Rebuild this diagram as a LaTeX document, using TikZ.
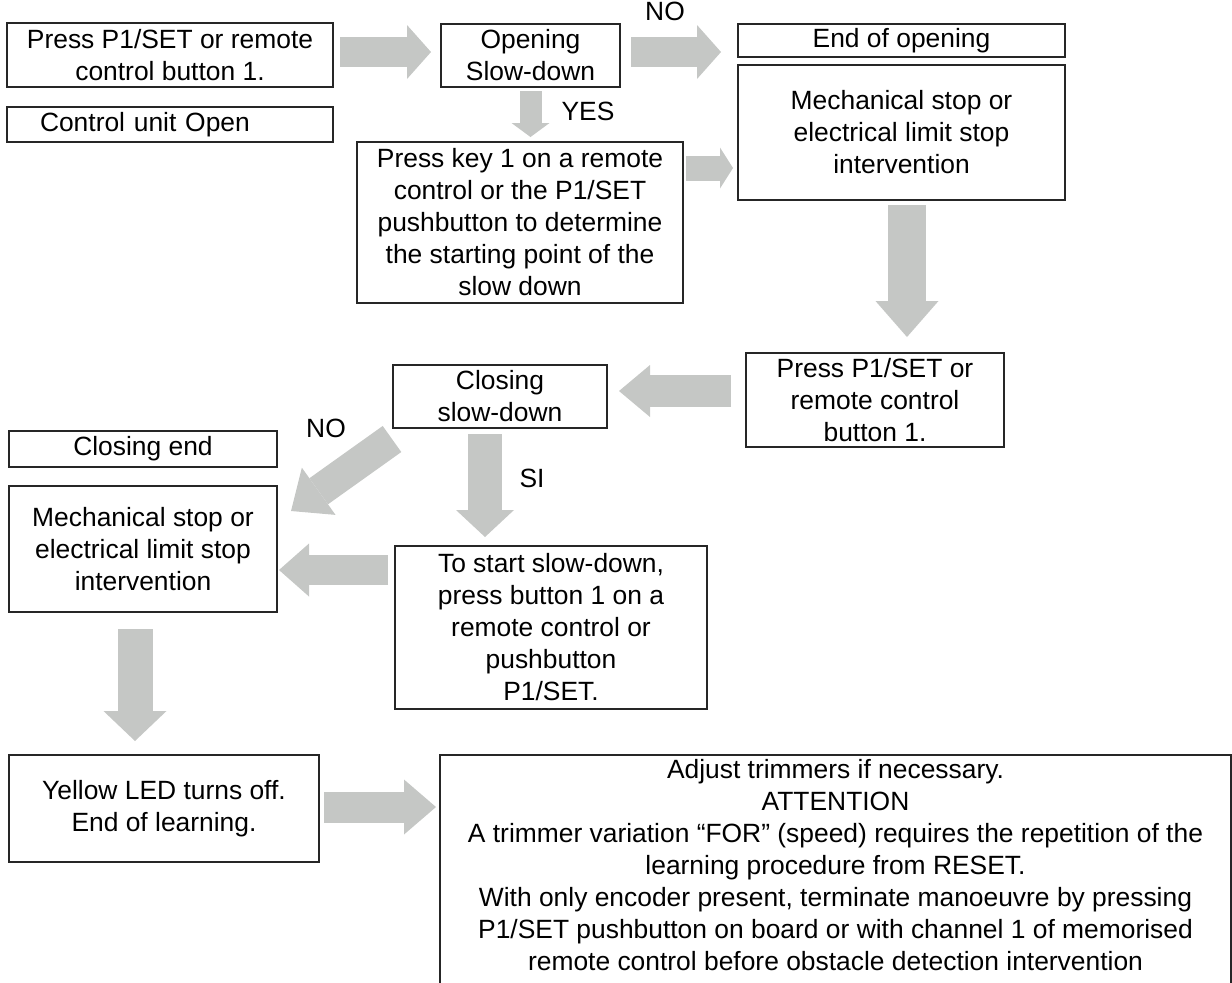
\documentclass[tikz,border=0pt]{standalone}
\usepackage{fontspec}
\setmainfont{Liberation Sans}
\usetikzlibrary{calc,positioning,arrows.meta}
\definecolor{flowgray}{RGB}{197,199,197}

\begin{document}
\begin{tikzpicture}[x=0.5pt,y=-0.5pt,
  box/.style={draw=black!85,line width=1pt,align=center,inner sep=0pt,
    font=\fontsize{13.2}{16}\selectfont},
  boxline/.style={draw=black!85,line width=1pt},
  lbl/.style={inner sep=0pt,font=\fontsize{13.2}{16}\selectfont},
  flow/.style n args={3}{draw=flowgray,line width=#1,
    -{Triangle[width=#2,length=#3,line width=0pt]}}]

\useasboundingbox (0,0) rectangle (1232,982);

\node[box,minimum width=163pt,minimum height=32pt] (pressA) at (170,55) {Press P1/SET or remote\\control button 1.};
\node[box,text width=130pt,inner xsep=16.5pt,align=left,minimum height=17.5pt] (ctrlopen) at (170,124.5) {Control unit Open};
\node[box,minimum width=89.5pt,minimum height=31.5pt] (openslow) at (530.5,55.5) {Opening\\Slow-down};
\node[box,minimum width=163.5pt,minimum height=16.5pt] (endopen) at (901.5,40.5) {End of opening};
\node[box,minimum width=163.5pt,minimum height=67.5pt] (mechA) at (901.5,132.5) {Mechanical stop or\\electrical limit stop\\intervention};
\node[box,minimum width=163pt,minimum height=80.5pt] (presskey) at (520,222.5) {Press key 1 on a remote\\control or the P1/SET\\pushbutton to determine\\the starting point of the\\slow down};
\node[box,minimum width=129pt,minimum height=47pt] (pressB) at (875,400) {Press P1/SET or\\remote control\\button 1.};
\node[box,minimum width=107pt,minimum height=31.5pt] (closeslow) at (500,396.5) {Closing\\slow-down};
\node[box,minimum width=134pt,minimum height=18pt] (closeend) at (143,449) {Closing end};
\node[box,minimum width=134pt,minimum height=63pt] (mechB) at (143,549) {Mechanical stop or\\electrical limit stop\\intervention};
\node[box,minimum width=156pt,minimum height=81.5pt] (tostart) at (551,627.5) {To start slow-down,\\press button 1 on a\\remote control or\\pushbutton\\P1/SET.};
\node[box,minimum width=155pt,minimum height=53.5pt] (yellow) at (164,808.5) {Yellow LED turns off.\\End of learning.};
\node[box,draw=none,minimum width=394.5pt,inner ysep=1.5pt,anchor=north] (adjust) at (835.5,755) {Adjust trimmers if necessary.\\ATTENTION\\A trimmer variation “FOR” (speed) requires the repetition of the\\learning procedure from RESET.\\With only encoder present, terminate manoeuvre by pressing\\P1/SET pushbutton on board or with channel 1 of memorised\\remote control before obstacle detection intervention};
\draw[boxline] ($(adjust.north west)+(0,260)$) |- (adjust.north east) -- ++(0,260);

\node[lbl,anchor=base] (noA) at (665,20) {NO};
\node[lbl] (yes) at (588,111) {YES};
\node[lbl] (noB) at (326,428) {NO};
\node[lbl] (si) at (532,478) {SI};

\draw[flow={15pt}{27pt}{12pt}] ($(pressA.east)+(6,-3)$) -- ($(openslow.west)+(-9,-3.5)$);
\draw[flow={15pt}{27pt}{12pt}] ($(openslow.east)+(10,-3.5)$) -- ($(endopen.west)+(-16,11.5)$);
\draw[flow={11pt}{19pt}{7pt}] ($(openslow.south)+(0,3)$) -- ($(presskey.north)+(10.5,-4)$);
\draw[flow={12.5pt}{20.5pt}{6.5pt}] ($(presskey.east)+(2,-54.5)$) -- ($(mechA.west)+(-4,35.5)$);
\draw[flow={19pt}{31.5pt}{18pt}] ($(mechA.south)+(5.5,4)$) -- ($(pressB.north)+(32,-15)$);
\draw[flow={16pt}{26pt}{15.5pt}] ($(pressB.west)+(-14,-9)$) -- ($(closeslow.east)+(11,-5.5)$);
\draw[flow={16pt}{29pt}{17pt}] ($(closeslow.south west)+(0,10)$) -- ($(mechB.north east)+(13,26)$);
\draw[flow={17pt}{29pt}{13.5pt}] ($(closeslow.south)+(-15,5)$) -- ($(tostart.north)+(-66,-8)$);
\draw[flow={15pt}{26.5pt}{15pt}] ($(tostart.west)+(-6,-57.5)$) -- ($(mechB.east)+(1,21)$);
\draw[flow={17.5pt}{31.5pt}{15pt}] ($(mechB.south)+(-8,16)$) -- ($(yellow.north)+(-29,-13)$);
\draw[flow={15.5pt}{27.5pt}{16pt}] ($(yellow.east)+(4,-1.5)$) -- ($(adjust.north west)+(-4,52)$);
\end{tikzpicture}
\end{document}
